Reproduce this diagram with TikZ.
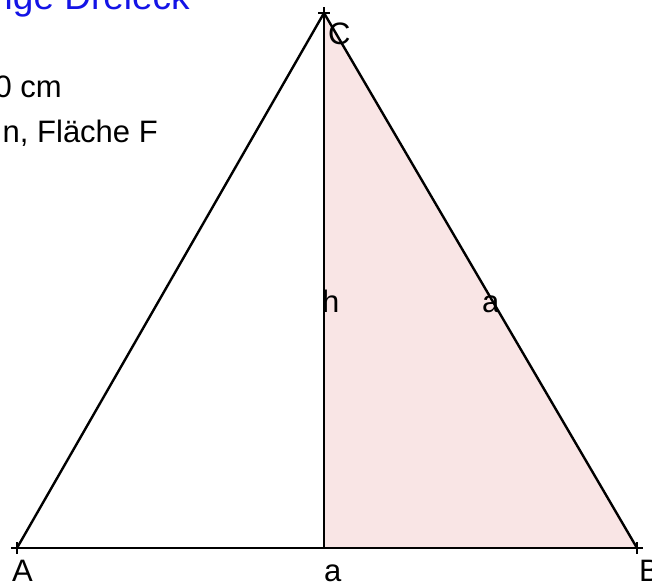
\documentclass[tikz,border=0pt]{standalone}
\usepackage{fontspec}
\setmainfont{Liberation Sans}
\definecolor{fillpink}{RGB}{249,229,229}
\definecolor{titleblue}{RGB}{20,20,230}
\begin{document}
\begin{tikzpicture}[x=1pt,y=1pt,
  edge/.style={line width=2.4pt,black},
  lbl/.style={inner sep=0pt,anchor=base west,font=\fontsize{31}{34}\selectfont},
  txt/.style={inner sep=0pt,anchor=base east,font=\fontsize{31}{34}\selectfont},
  cross/.style={line width=2.4pt,black}]
\useasboundingbox (0,0) rectangle (652,585);
\clip (0,0) rectangle (652,585);
\fill[white] (0,0) rectangle (652,585);
\coordinate (A) at (17,37);
\coordinate (B) at (637,37);
\coordinate (C) at (324,572);
\coordinate (F) at (324,37);
\fill[fillpink] (F) -- (B) -- (C) -- cycle;
\draw[edge] (A) -- (B);
\draw[edge] (A) -- (C);
\draw[edge] (B) -- (C);
\draw[edge] (C) -- (F);
\foreach \p in {A,B,C}{
  \draw[cross] ([xshift=-6pt]\p) -- ([xshift=6pt]\p);
  \draw[cross] ([yshift=-6pt]\p) -- ([yshift=6pt]\p);
}
\node[txt,text=titleblue,font=\fontsize{37}{40}\selectfont] (title) at (190,575) {ige Dreieck};
\node[txt] (t1) at (62,487) {0 cm};
\node[txt] (t2) at (158,442) {n, Fläche F};
\node[lbl] (lC) at (328,540) {C};
\node[lbl] (lh) at (322,272) {h};
\node[lbl] (la) at (482,272) {a};
\node[lbl] (lab) at (324,3) {a};
\node[lbl] (lA) at (12,3) {A};
\node[lbl] (lB) at (639,3) {B};
\end{tikzpicture}
\end{document}
